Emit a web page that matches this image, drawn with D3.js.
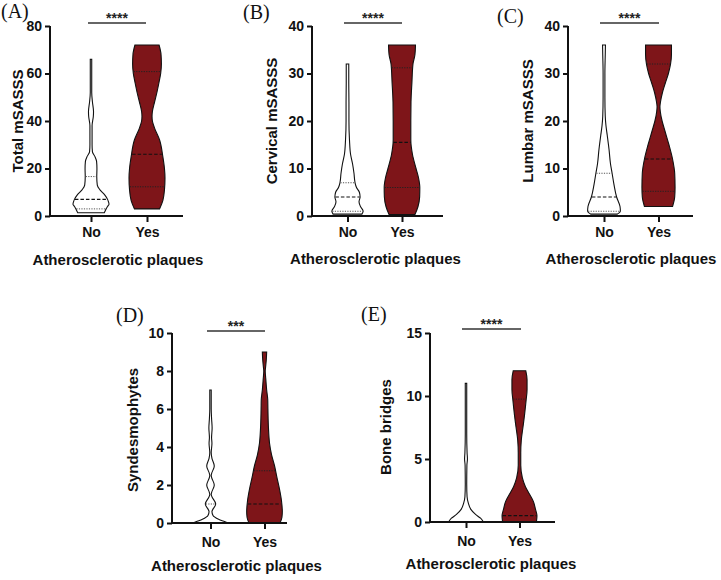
<!DOCTYPE html>
<html>
<head>
<meta charset="utf-8">
<script src="https://cdn.jsdelivr.net/npm/d3@7"></script>
<style>
  html, body { margin: 0; padding: 0; background: #fff; }
  svg { display: block; }
</style>
</head>
<body>
<svg id="chart" width="721" height="580"></svg>
<script>
// ---------------- DATA ----------------
const categories = ["No", "Yes"];
const panelLabels = ["(A)", "(B)", "(C)", "(D)", "(E)"];
const yTitles = ["Total mSASSS", "Cervical mSASSS", "Lumbar mSASSS", "Syndesmophytes", "Bone bridges"];
const xTitle = "Atherosclerotic plaques";
const sigLabels = ["****", "****", "****", "***", "****"];

const yTicksA = [0, 20, 40, 60, 80];
const yTicksB = [0, 10, 20, 30, 40];
const yTicksC = [0, 10, 20, 30, 40];
const yTicksD = [0, 2, 4, 6, 8, 10];
const yTicksE = [0, 5, 10, 15];

// violin profiles: [value, relative width (% of max)]
const aNoProfile = [[66,4],[60,4],[52,4],[48,8],[44,14],[42,13],[38,6],[30,6],[27,8],[25,22],[23,31],[20,33],[16.5,32],[13,35],[11,50],[9,75],[7,92],[6,97],[5,100],[4,92],[3,84],[2,78],[1.4,74]];
const aYesProfile = [[72,67],[68,78],[64,80],[60,76],[56,66],[52,55],[48,42],[44,30],[42,28],[40,30],[37,42],[32,70],[25,88],[20,97],[16,100],[11,97],[6.5,88],[3,70]];
const bNoProfile = [[32,7],[28,7],[24,8],[20,8],[16,11],[13,17],[11,28],[9,36],[7,42],[6,50],[5,66],[4,70],[3,64],[2,72],[1,87],[0.4,80]];
const bYesProfile = [[36,75],[34,72],[32,61],[28,55],[24,50],[20,49],[16,49],[13,58],[10,78],[8,92],[6,99],[4,98],[2,89],[0.3,72]];
const cNoProfile = [[36,8],[34,7],[30,5],[25,5],[21,7],[19,11],[17,18],[14,28],[11,36],[9,45],[6.5,56],[4,70],[2,89],[1,91],[0.4,74]];
const cYesProfile = [[36,72],[34,72],[32,67],[30,55],[28,38],[26,22],[24,11],[23,8],[22,10],[20,20],[18,35],[15,58],[12,78],[9,90],[6,92],[4,90],[2,78]];
const dNoProfile = [[7,4],[6,4],[5.5,6],[5,9],[4.5,6],[4.2,8],[3.7,4],[3.4,8],[3,21],[2.6,6],[2.5,4],[2.4,6],[2,21],[1.6,6],[1.5,4],[1.4,7],[1,29],[0.6,8],[0.4,14],[0.2,45],[0.1,70],[0,97]];
const dYesProfile = [[9,12],[8.6,10],[8.2,6],[8,4],[7.6,7],[7,12],[6.5,18],[6,19],[5,22],[4.2,28],[3.6,39],[3,56],[2.4,69],[1.8,83],[1.2,94],[0.6,99],[0.3,97],[0,86]];
const eNoProfile = [[11,4],[9,4],[7,4],[5.5,6],[5,8],[4.5,5],[3,4],[2,6],[1.5,13],[1,27],[0.6,53],[0.3,81],[0,97]];
const eYesProfile = [[12,35],[11.3,42],[10.5,42],[9.7,37],[8.5,28],[7.5,19],[6.5,10],[5.5,7],[4.5,7],[3.5,16],[2.8,33],[2.2,56],[1.6,78],[1,89],[0.5,97],[0,94]];

// quartiles [Q1, median, Q3]
const aNoQuart = [3, 7, 16.6];
const aYesQuart = [12.3, 26, 60.8];
const bNoQuart = [1, 4, 7];
const bYesQuart = [6, 15.5, 31.2];
const cNoQuart = [1, 4, 9];
const cYesQuart = [5.2, 12, 32];
const dNoQuart = [0, 0, 1];
const dYesQuart = [0, 1, 2.75];
const eNoQuart = [0, 0, 0];
const eYesQuart = [0, 0.5, 9.75];

// ---------------- LAYOUT ----------------
const panels = [
  { lx: 1,   ly: 18,  left: 50,  right: 183, top: 26,  bottom: 216, xNo: 91,    xYes: 147,   ymax: 80, ticks: yTicksA,
    tX: 23,  tY: 121, xtX: 118,   xtY: 265, xPad: 5, sigY: 23,  s1: 88,  s2: 146, no: aNoProfile, yes: aYesProfile, noQ: aNoQuart, yesQ: aYesQuart },
  { lx: 243, ly: 19,  left: 312, right: 443, top: 26,  bottom: 216, xNo: 347.5, xYes: 402,   ymax: 40, ticks: yTicksB,
    tX: 277, tY: 121, xtX: 375.5, xtY: 264, xPad: 5, sigY: 23,  s1: 344, s2: 402, no: bNoProfile, yes: bYesProfile, noQ: bNoQuart, yesQ: bYesQuart },
  { lx: 497, ly: 23,  left: 568, right: 693, top: 26,  bottom: 216, xNo: 604,   xYes: 658.5, ymax: 40, ticks: yTicksC,
    tX: 533, tY: 121, xtX: 631,   xtY: 264, xPad: 5, sigY: 23,  s1: 600, s2: 659, no: cNoProfile, yes: cYesProfile, noQ: cNoQuart, yesQ: cYesQuart },
  { lx: 116, ly: 322, left: 172, right: 287, top: 333, bottom: 523, xNo: 210.5, xYes: 264.5, ymax: 10, ticks: yTicksD,
    tX: 138, tY: 430, xtX: 236.5, xtY: 571, xPad: 8, sigY: 331, s1: 207, s2: 265, no: dNoProfile, yes: dYesProfile, noQ: dNoQuart, yesQ: dYesQuart },
  { lx: 361, ly: 321, left: 430, right: 555, top: 333, bottom: 522, xNo: 466,   xYes: 519.5, ymax: 15, ticks: yTicksE,
    tX: 391, tY: 427, xtX: 491,   xtY: 569, xPad: 8, sigY: 329, s1: 462, s2: 521, no: eNoProfile, yes: eYesProfile, noQ: eNoQuart, yesQ: eYesQuart }
];

const SANS = "'Liberation Sans', Arial, Helvetica, sans-serif";
const SERIF = "'Liberation Serif', 'Times New Roman', serif";
const YES_FILL = "#7e1519";
const svg = d3.select("#chart");
const wScale = d3.scaleLinear().domain([0, 100]).range([0, 18]);

panels.forEach((p, i) => {
  const g = svg.append("g");
  const y = d3.scaleLinear().domain([0, p.ymax]).range([p.bottom, p.top]);
  const x = d3.scalePoint().domain(categories).range([p.xNo, p.xYes]);

  // violins
  const groups = [
    { cat: "No",  prof: p.no,  q: p.noQ,  fill: "#ffffff" },
    { cat: "Yes", prof: p.yes, q: p.yesQ, fill: YES_FILL }
  ];
  groups.forEach(v => {
    const cx = x(v.cat);
    const area = d3.area()
      .curve(d3.curveMonotoneY)
      .y(d => y(d[0]))
      .x0(d => cx - wScale(d[1]))
      .x1(d => cx + wScale(d[1]));
    g.append("path")
      .attr("d", area(v.prof))
      .attr("fill", v.fill)
      .attr("stroke", "#111")
      .attr("stroke-width", 1.1);
    const wAt = d3.scaleLinear()
      .domain(v.prof.map(d => d[0]))
      .range(v.prof.map(d => d[1]))
      .clamp(true);
    v.q.forEach((val, k) => {
      const hw = wScale(wAt(val)) - 0.5;
      g.append("line")
        .attr("x1", cx - hw).attr("x2", cx + hw)
        .attr("y1", y(val)).attr("y2", y(val))
        .attr("stroke", k === 1 ? "#111" : (v.cat === "No" ? "#555" : "#222"))
        .attr("stroke-width", k === 1 ? 1.2 : 1)
        .attr("stroke-dasharray", k === 1 ? "3.5,2" : "1.2,1.3");
    });
  });

  // y axis
  const yAxis = d3.axisLeft(y).tickValues(p.ticks).tickSize(5).tickSizeOuter(0).tickPadding(3);
  const ya = g.append("g").attr("transform", `translate(${p.left},0)`).call(yAxis);
  ya.select(".domain").attr("stroke", "#111").attr("stroke-width", 2)
    .attr("d", `M0,${p.top}V${p.bottom + 1}`);
  ya.selectAll(".tick line").attr("stroke", "#111").attr("stroke-width", 2);
  ya.selectAll(".tick text").attr("font-family", SANS).attr("font-weight", "bold")
    .attr("font-size", 14).attr("fill", "#111");

  // x axis
  const xAxis = d3.axisBottom(x).tickSize(6).tickSizeOuter(0).tickPadding(p.xPad);
  const xa = g.append("g").attr("transform", `translate(0,${p.bottom})`).call(xAxis);
  xa.select(".domain").attr("stroke", "#111").attr("stroke-width", 2)
    .attr("d", `M${p.left - 1},0H${p.right}`);
  xa.selectAll(".tick line").attr("stroke", "#111").attr("stroke-width", 2);
  xa.selectAll(".tick text").attr("font-family", SANS).attr("font-weight", "bold")
    .attr("font-size", 14).attr("fill", "#111");

  // titles
  g.append("text")
    .attr("transform", `translate(${p.tX},${p.tY}) rotate(-90)`)
    .attr("text-anchor", "middle")
    .attr("font-family", SANS).attr("font-weight", "bold").attr("font-size", 15)
    .attr("fill", "#111")
    .text(yTitles[i]);
  g.append("text")
    .attr("x", p.xtX).attr("y", p.xtY)
    .attr("text-anchor", "middle")
    .attr("font-family", SANS).attr("font-weight", "bold").attr("font-size", 15)
    .attr("fill", "#111")
    .text(xTitle);

  // panel label
  g.append("text")
    .attr("x", p.lx).attr("y", p.ly)
    .attr("font-family", SERIF).attr("font-size", 20).attr("fill", "#111")
    .text(panelLabels[i]);

  // significance bar
  g.append("line")
    .attr("x1", p.s1).attr("x2", p.s2).attr("y1", p.sigY).attr("y2", p.sigY)
    .attr("stroke", "#333").attr("stroke-width", 1.3);
  g.append("text")
    .attr("x", (p.s1 + p.s2) / 2).attr("y", p.sigY - 0.5)
    .attr("text-anchor", "middle")
    .attr("font-family", SANS).attr("font-weight", "bold").attr("font-size", 14)
    .attr("fill", "#222")
    .text(sigLabels[i]);
});
</script>
</body>
</html>
